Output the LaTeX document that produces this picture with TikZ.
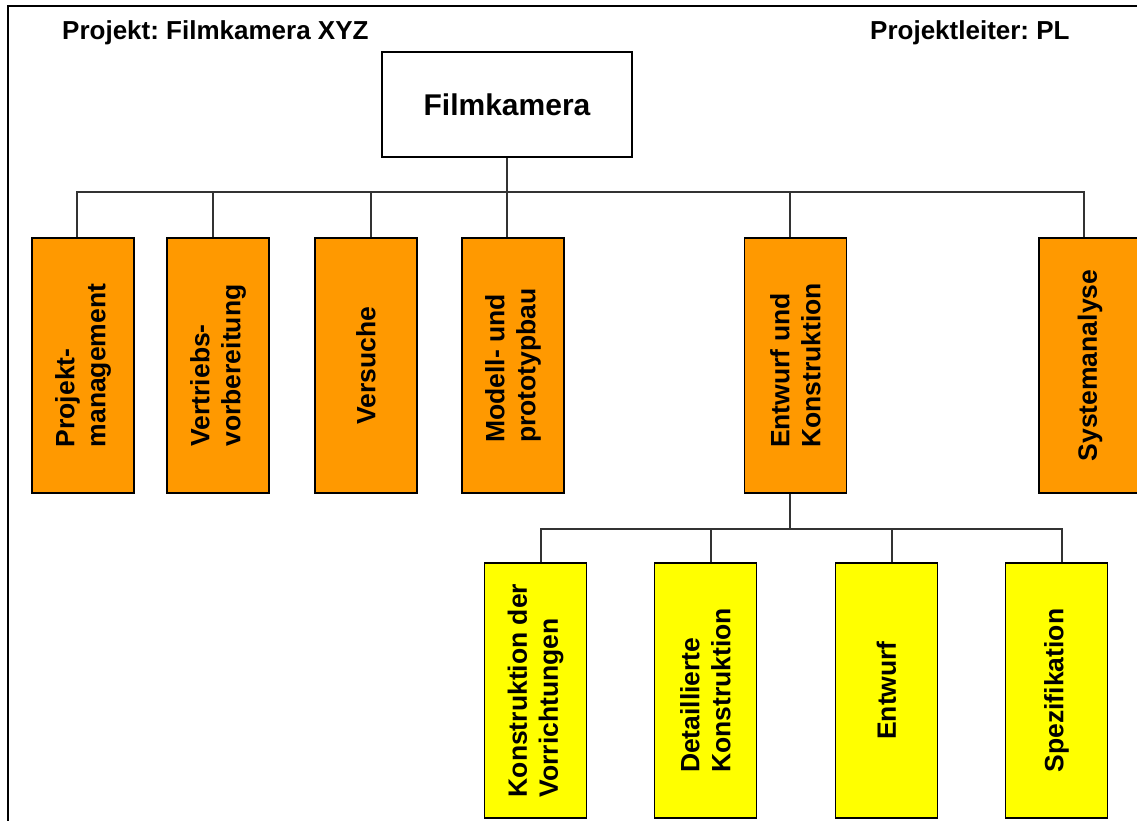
\documentclass[tikz,border=0pt]{standalone}
\usepackage{fontspec}
\setmainfont{Liberation Sans}
\usetikzlibrary{calc}
\definecolor{wbsorange}{HTML}{FF9900}
\definecolor{wbsyellow}{HTML}{FFFF00}
\definecolor{wiregray}{HTML}{333333}
\frenchspacing
\begin{document}
\begin{tikzpicture}[x=1pt,y=-1pt,
  box/.style={draw=black, line width=1.2pt, inner sep=0pt},
  vbox/.style={box, rotate=90, minimum width=255pt, minimum height=102pt,
    align=left, font=\fontsize{26.5}{31}\selectfont\bfseries},
  level1/.style={vbox, fill=wbsorange},
  level2/.style={vbox, fill=wbsyellow},
  wire/.style={draw=wiregray, line width=1.2pt},
  heading/.style={font=\fontsize{26}{31}\selectfont\bfseries, inner sep=0pt, anchor=base west}]
\useasboundingbox (0,0) rectangle (1137,820);
\clip (0,0) rectangle (1137,820);

% outer frame
\draw[line width=2pt] (8,6) rectangle (1170,850);

% headings
\node[heading] (proj) at (62,39) {Projekt: Filmkamera XYZ};
\node[heading] (pl) at (870,39) {Projektleiter: PL};

% root
\node[box, fill=white, minimum width=250pt, minimum height=105pt,
  font=\fontsize{30}{36}\selectfont\bfseries] (root) at (507,104.5) {Filmkamera};

% first level
\node[level1] (pm) at (83,365.5)   {Projekt-\\management};
\node[level1] (vv) at (218,365.5)  {Vertriebs-\\vorbereitung};
\node[level1] (vs) at (366,365.5)  {Versuche};
\node[level1] (mp) at (513,365.5)  {Modell- und\\prototypbau};
\node[level1] (ek) at (795.5,365.5){Entwurf und\\Konstruktion};
\node[level1] (sa) at (1090,365.5) {Systemanalyse};

% second level under Entwurf und Konstruktion
\node[level2] (kv) at (535.5,690.5) {Konstruktion der\\Vorrichtungen};
\node[level2] (dk) at (705.5,690.5) {Detaillierte\\Konstruktion};
\node[level2] (en) at (886.5,690.5) {Entwurf};
\node[level2] (sp) at (1056.5,690.5){Spezifikation};

% connectors, first level
\coordinate (bus) at (507,192);
\draw[wire] (root.south) -- (bus);
\draw[wire] ([xshift=-6pt]pm.east) |- (bus);
\draw[wire] ([xshift=-5pt]vv.east) |- (bus);
\draw[wire] ([xshift=5pt]vs.east) |- (bus);
\draw[wire] ([xshift=-6pt]mp.east) |- (bus);
\draw[wire] ([xshift=-5.5pt]ek.east) |- (bus);
\draw[wire] ([xshift=-6pt]sa.east) |- (bus);

% connectors, second level
\coordinate (bus2) at (790,529);
\draw[wire] ([xshift=-5.5pt]ek.west) -- (bus2);
\draw[wire] ([xshift=5.5pt]kv.east) |- (bus2);
\draw[wire] ([xshift=5.5pt]dk.east) |- (bus2);
\draw[wire] ([xshift=5.5pt]en.east) |- (bus2);
\draw[wire] ([xshift=5.5pt]sp.east) |- (bus2);
\end{tikzpicture}
\end{document}
